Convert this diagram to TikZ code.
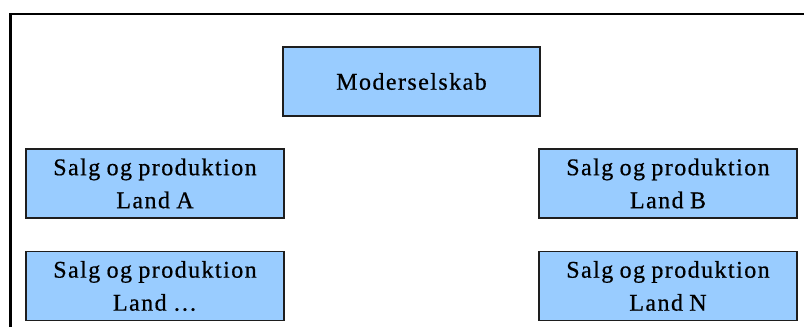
\documentclass[tikz,border=0pt]{standalone}
\usepackage{fontspec}
\newfontfamily\boxfont[LetterSpace=6,WordSpace=0.85,FakeBold=0.6]{Liberation Serif}
\definecolor{boxblue}{RGB}{153,204,255}
\definecolor{boxline}{RGB}{30,30,30}
\begin{document}
\begin{tikzpicture}[x=1pt,y=-1pt,
  unit/.style={draw=boxline, line width=1.2pt, fill=boxblue,
    minimum width=258pt, minimum height=69pt, inner sep=0pt,
    align=center, text=black,
    font={\boxfont\fontsize{24pt}{33pt}\selectfont}},
  frame/.style={draw=black, line width=2.5pt}]
  \useasboundingbox (0,0) rectangle (804,327);
  % outer frame (top and left edges)
  \draw[frame] (10.5,327) -- (10.5,14) -- (805,14);
  % parent company
  \node[unit, minimum width=257pt] (mother) at (411.5,81.5) {Moderselskab};
  % national sales and production units
  \node[unit] (landA) at (155,183.5) {Salg og produktion\\Land A};
  \node[unit] (landB) at (668,183.5) {Salg og produktion\\Land B};
  \node[unit] (landX) at (155,286) {Salg og produktion\\Land …};
  \node[unit] (landN) at (668,286) {Salg og produktion\\Land N};
\end{tikzpicture}
\end{document}
